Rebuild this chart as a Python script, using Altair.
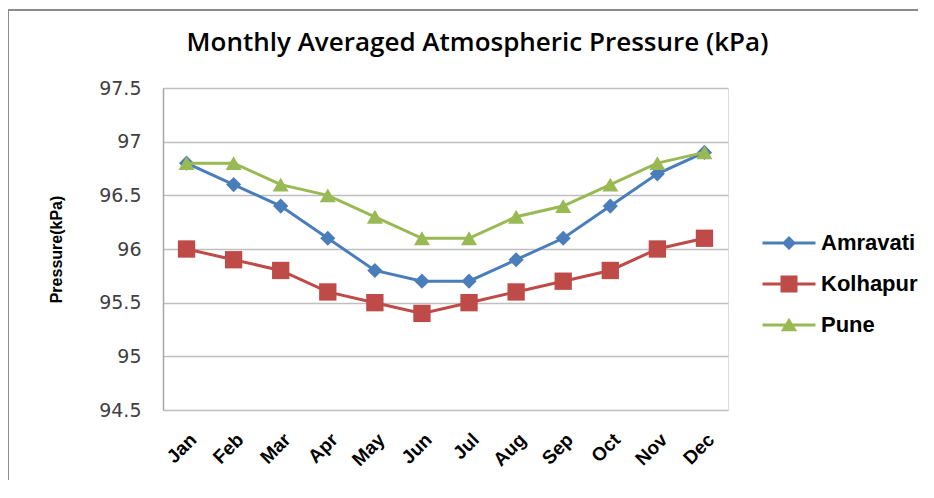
import altair as alt
import pandas as pd

months = ["Jan", "Feb", "Mar", "Apr", "May", "Jun", "Jul", "Aug", "Sep", "Oct", "Nov", "Dec"]
amravati = [96.8, 96.6, 96.4, 96.1, 95.8, 95.7, 95.7, 95.9, 96.1, 96.4, 96.7, 96.9]
kolhapur = [96.0, 95.9, 95.8, 95.6, 95.5, 95.4, 95.5, 95.6, 95.7, 95.8, 96.0, 96.1]
pune = [96.8, 96.8, 96.6, 96.5, 96.3, 96.1, 96.1, 96.3, 96.4, 96.6, 96.8, 96.9]
series = ["Amravati", "Kolhapur", "Pune"]
colors = ["#4A7EBB", "#BE4B48", "#98B954"]
shapes = ["diamond", "square", "triangle-up"]
marker_sizes = [230, 300, 256]

rows = []
for name, vals in zip(series, [amravati, kolhapur, pune]):
    for m, v in zip(months, vals):
        rows.append({"Month": m, "Pressure": v, "City": name})
df = pd.DataFrame(rows)

# legend symbols: a short line with the series marker on it (unit path)
legend_paths = [
    "M-2.65,-0.15H2.65V0.15H-2.65ZM0,-0.7L0.7,0L0,0.7L-0.7,0Z",
    "M-2.65,-0.15H2.65V0.15H-2.65ZM-0.85,-0.85H0.85V0.85H-0.85Z",
    "M-2.65,-0.15H2.65V0.15H-2.65ZM0,-0.72L0.82,0.62L-0.82,0.62Z",
]

legend = alt.Legend(
    title=None, orient="none", legendX=615, legendY=144, padding=0,
    labelFont="Liberation Sans", labelFontSize=22, labelFontWeight="bold",
    labelColor="#000000", symbolSize=400, symbolOpacity=1, symbolStrokeWidth=0,
    rowPadding=19, labelOffset=21,
)

x = alt.X("Month:N", sort=months, scale=alt.Scale(paddingInner=0, paddingOuter=0),
          axis=alt.Axis(title=None, labelAngle=-45, labelFont="Liberation Sans",
                        labelFontSize=19, labelFontWeight="bold", labelColor="#000000",
                        ticks=False, domain=False, labelPadding=20))
y = alt.Y("Pressure:Q", scale=alt.Scale(domain=[94.5, 97.5], nice=False, zero=False),
          axis=alt.Axis(title="Pressure(kPa)", values=[94.5, 95, 95.5, 96, 96.5, 97, 97.5],
                        format="~g",
                        labelFont="DejaVu Sans", labelFontSize=19, labelColor="#404040",
                        labelPadding=22, ticks=False, domain=True, domainColor="#A6A6A6",
                        domainWidth=1.5, gridColor="#BFBFBF", gridWidth=1.3,
                        titleFont="Liberation Sans", titleFontSize=16, titleFontWeight="bold",
                        titleColor="#000000", titlePadding=34))

base = alt.Chart(df)

legend_layer = base.mark_point(filled=True, opacity=0).encode(
    x=x, y=y,
    color=alt.Color("City:N", scale=alt.Scale(domain=series, range=colors), legend=legend),
    shape=alt.Shape("City:N", scale=alt.Scale(domain=series, range=legend_paths), legend=legend),
)

series_layers = []
for name, col, shp, sz in zip(series, colors, shapes, marker_sizes):
    sub = base.transform_filter(alt.datum.City == name)
    series_layers.append(sub.mark_line(strokeWidth=3, color=col).encode(x=x, y=y))
    series_layers.append(
        sub.mark_point(filled=True, opacity=1, shape=shp, size=sz, color=col).encode(x=x, y=y)
    )

frame_src = alt.Chart(pd.DataFrame({"f": [0]}))
frame_top = frame_src.mark_rule(color="#8C8C8C", strokeWidth=2).encode(
    x=alt.value(-155), x2=alt.value(771), y=alt.value(-78))
frame_left = frame_src.mark_rule(color="#8C8C8C", strokeWidth=2).encode(
    x=alt.value(-155), y=alt.value(-78), y2=alt.value(410))

chart = alt.layer(legend_layer, *series_layers, frame_top, frame_left).properties(
    width=565, height=322,
    title=alt.TitleParams("Monthly Averaged Atmospheric Pressure (kPa)", font="Open Sans",
                          fontSize=26, fontWeight=600, color="#000000", offset=0,
                          dx=32, dy=47, frame="group"),
    autosize=alt.AutoSizeParams(type="none"),
    padding={"left": 155, "top": 80, "right": 190, "bottom": 70},
).configure_view(stroke=None).configure(background="#FFFFFF")

chart.save("out.html", embed_options={"renderer": "svg", "actions": False})
